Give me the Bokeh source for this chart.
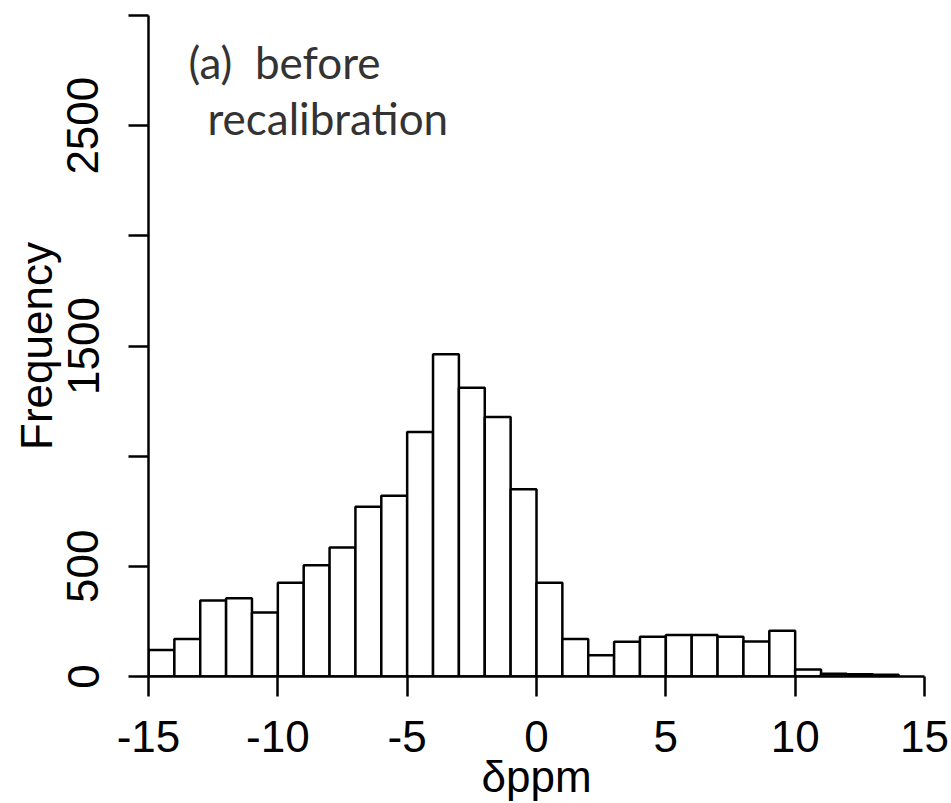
from bokeh.plotting import figure
from bokeh.models import Range1d, FixedTicker, Label
from bokeh.embed import file_html
from bokeh.resources import INLINE

# ---- data ----
bin_edges = [-15, -14, -13, -12, -11, -10, -9, -8, -7, -6, -5, -4, -3, -2, -1,
             0, 1, 2, 3, 4, 5, 6, 7, 8, 9, 10, 11, 12, 13, 14]
counts = [120, 170, 345, 355, 290, 425, 505, 585, 770, 820, 1110, 1463, 1310, 1178, 850,
          426, 170, 97, 158, 180, 188, 188, 180, 159, 208, 32, 12, 10, 8]
x_ticks = [-15, -10, -5, 0, 5, 10, 15]
x_tick_labels = ["-15", "-10", "-5", "0", "5", "10", "15"]
y_ticks = [0, 500, 1000, 1500, 2000, 2500, 3000]
y_tick_labels = ["0", "500", "", "1500", "", "2500", ""]
x_title = "δppm"
y_title = "Frequency"
annotation_lines = ["(a)\u00a0 before", "recalibration"]

p = figure(width=951, height=803, output_backend="svg", toolbar_location=None,
           x_range=Range1d(-15, 15), y_range=Range1d(0, 3000),
           min_border_left=148, min_border_right=27, min_border_top=15,
           min_border_bottom=126)
p.outline_line_color = None
p.xgrid.visible = False
p.ygrid.visible = False
p.background_fill_color = "white"
p.border_fill_color = "white"

p.quad(left=bin_edges[:-1], right=bin_edges[1:], top=counts, bottom=0,
       fill_color="white", line_color="black", line_width=2.5)

tick_font = "Liberation Sans"
for ax in (p.xaxis[0], p.yaxis[0]):
    ax.axis_line_width = 2.5
    ax.major_tick_line_width = 2.5
    ax.major_tick_out = 20
    ax.major_tick_in = 0
    ax.minor_tick_line_color = None
    ax.major_label_text_font = tick_font
    ax.major_label_text_font_size = "44px"
    ax.major_label_text_color = "black"
    ax.axis_label_text_font = tick_font
    ax.axis_label_text_font_size = "44px"
    ax.axis_label_text_font_style = "normal"
    ax.axis_label_text_color = "black"

p.xaxis.ticker = FixedTicker(ticks=x_ticks)
p.xaxis.major_label_overrides = dict(zip(x_ticks, x_tick_labels))
p.xaxis.major_label_standoff = 24
p.xaxis.axis_label = x_title
p.xaxis.axis_label_standoff = -3

p.yaxis.ticker = FixedTicker(ticks=y_ticks)
p.yaxis.major_label_overrides = dict(zip(y_ticks, y_tick_labels))
p.yaxis.major_label_orientation = "vertical"
p.yaxis.major_label_standoff = 30
p.yaxis.axis_label = y_title
p.yaxis.axis_label_standoff = 4

p.add_layout(Label(x=-13.45, y=2791, text=annotation_lines[0],
                   text_font="Lato", text_font_size="44px", text_color="#333333",
                   text_baseline="alphabetic"))
p.add_layout(Label(x=-12.72, y=2537, text=annotation_lines[1],
                   text_font="Lato", text_font_size="44px", text_color="#333333",
                   text_baseline="alphabetic"))

open("out.html", "w").write(file_html(p, INLINE))
